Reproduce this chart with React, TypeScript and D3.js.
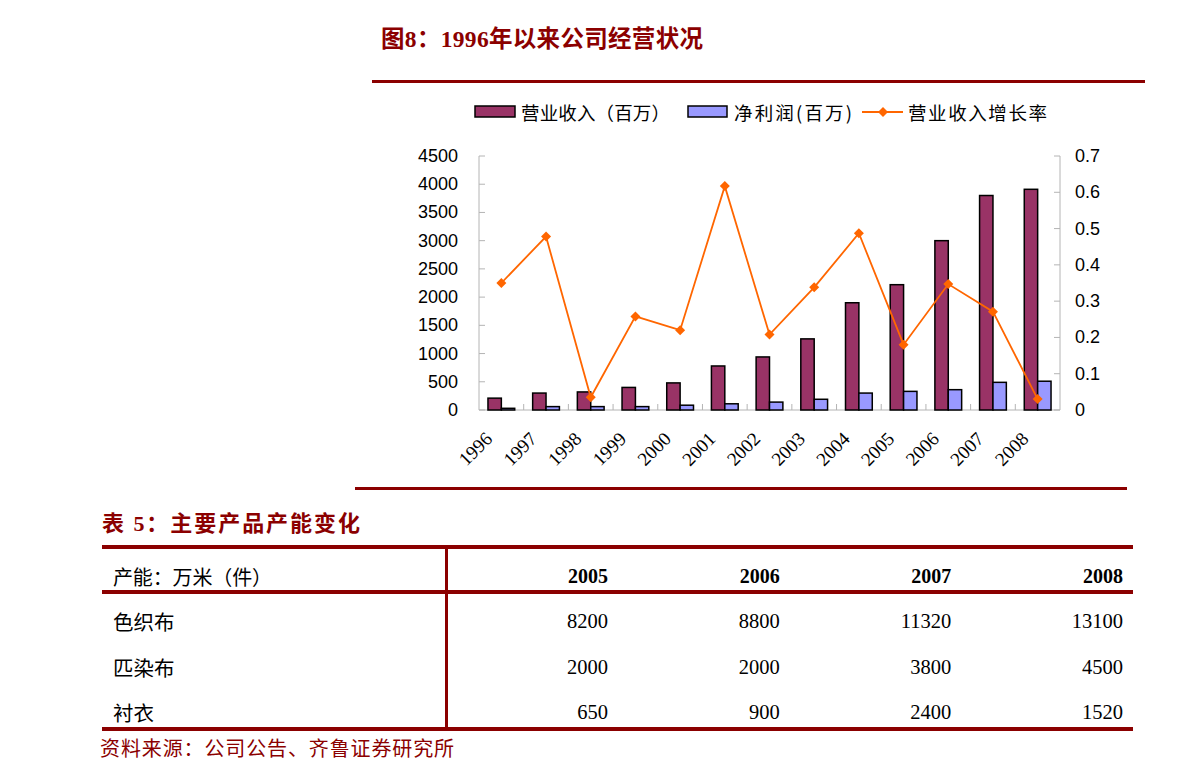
import React from 'react';
import * as d3 from 'd3';

const years = ['1996', '1997', '1998', '1999', '2000', '2001', '2002', '2003', '2004', '2005', '2006', '2007', '2008'];
const revenue = [210, 300, 320, 400, 480, 780, 940, 1260, 1900, 2220, 3000, 3800, 3910];
const netProfit = [30, 60, 60, 60, 85, 110, 140, 190, 300, 330, 360, 490, 510];
const growth = [0.35, 0.478, 0.035, 0.258, 0.22, 0.617, 0.208, 0.338, 0.487, 0.18, 0.347, 0.271, 0.03];
const leftTicks = [0, 500, 1000, 1500, 2000, 2500, 3000, 3500, 4000, 4500];
const rightTicks = [0, 0.1, 0.2, 0.3, 0.4, 0.5, 0.6, 0.7];

const tableYears = ['2005', '2006', '2007', '2008'];
const products = ['色织布', '匹染布', '衬衣'];
const capacity = [
  [8200, 8800, 11320, 13100],
  [2000, 2000, 3800, 4500],
  [650, 900, 2400, 1520],
];

const RED = '#8b0000';
const CJK = '"Noto Sans CJK SC", sans-serif';
const SERIF_CJK = '"Liberation Serif", "Noto Sans CJK SC", serif';

const App: React.FC = () => {
  const plot = { left: 479, right: 1060, top: 156, bottom: 410 };

  const x = d3.scaleBand<string>().domain(years).range([plot.left, plot.right]);
  const inner = d3.scaleBand<string>().domain(['rev', 'net']).range([0, x.bandwidth()]).paddingOuter(0.67);
  const yL = d3.scaleLinear().domain([0, 4500]).range([plot.bottom, plot.top]);
  const yR = d3.scaleLinear().domain([0, 0.7]).range([plot.bottom, plot.top]);

  const line = d3.line<number>()
    .x((_, i) => (x(years[i]) as number) + x.bandwidth() / 2)
    .y(d => yR(d));

  const diamond = d3.symbol().type(d3.symbolSquare).size(50)();

  // table columns
  const colRight = d3.scalePoint<string>().domain(tableYears).range([608, 1123]);
  const rowY = d3.scalePoint<string>().domain(products).range([621, 712]);

  return (
    <svg width={1191} height={777} style={{ position: 'absolute', left: 0, top: 0, background: '#fff' }}>
      {/* figure title */}
      <text x={381} y={47} fontFamily={SERIF_CJK} fontWeight="bold" fontSize={23.5} fill={RED}
        textLength={322} lengthAdjust="spacing">
        图8：1996年以来公司经营状况
      </text>
      <rect x={372} y={80} width={773} height={3} fill={RED} />

      {/* legend */}
      <g fontFamily={CJK} fontSize={18.5} fill="#000">
        <rect x={475} y={106} width={40} height={11} fill="#993366" stroke="#000" strokeWidth={1.5} />
        <text x={521} y={112} dominantBaseline="central" textLength={149} lengthAdjust="spacing">营业收入（百万）</text>
        <rect x={688} y={106} width={39} height={11} fill="#9999ff" stroke="#000" strokeWidth={1.5} />
        <text x={734} y={112} dominantBaseline="central" textLength={118} lengthAdjust="spacing">净利润(百万)</text>
        <line x1={862} x2={903} y1={112} y2={112} stroke="#ff6600" strokeWidth={2} />
        <path d={diamond} transform="translate(883,112) rotate(45)" fill="#ff6600" />
        <text x={908} y={112} dominantBaseline="central" textLength={139} lengthAdjust="spacing">营业收入增长率</text>
      </g>

      {/* axes */}
      <g stroke="#b4b4b4" strokeWidth={1}>
        <line x1={plot.left} x2={plot.left} y1={plot.top} y2={plot.bottom} />
        <line x1={plot.right} x2={plot.right} y1={plot.top} y2={plot.bottom} />
        <line x1={plot.left} x2={plot.right} y1={plot.bottom} y2={plot.bottom} />
        {leftTicks.map(t => (
          <line key={'lt' + t} x1={plot.left} x2={plot.left + 6} y1={yL(t)} y2={yL(t)} />
        ))}
        {rightTicks.map(t => (
          <line key={'rt' + t} x1={plot.right - 6} x2={plot.right} y1={yR(t)} y2={yR(t)} />
        ))}
        {years.slice(1).map(yr => (
          <line key={'xt' + yr} x1={x(yr)} x2={x(yr)} y1={plot.bottom - 6} y2={plot.bottom} />
        ))}
      </g>

      <g fontFamily='"Liberation Sans", Arial, sans-serif' fontSize={18} fill="#000">
        {leftTicks.map(t => (
          <text key={'ll' + t} x={458} y={yL(t)} textAnchor="end" dominantBaseline="central">{t}</text>
        ))}
        {rightTicks.map(t => (
          <text key={'rl' + t} x={1075} y={yR(t)} dominantBaseline="central">{t === 0 ? '0' : t.toFixed(1)}</text>
        ))}
      </g>

      <g fontFamily='"Liberation Serif", serif' fontSize={19} fill="#000">
        {years.map(yr => {
          const cx = (x(yr) as number) + x.bandwidth() / 2 - 8;
          const cy = 440;
          return (
            <text key={'xl' + yr} x={cx} y={cy} textAnchor="end" transform={`rotate(-45,${cx},${cy})`}>{yr}</text>
          );
        })}
      </g>

      {/* bars */}
      <g stroke="#000" strokeWidth={1.5}>
        {years.map((yr, i) => (
          <g key={'b' + yr} transform={`translate(${x(yr)},0)`}>
            <rect x={inner('rev')} y={yL(revenue[i])} width={inner.bandwidth()} height={yL(0) - yL(revenue[i])} fill="#993366" />
            <rect x={inner('net')} y={yL(netProfit[i])} width={inner.bandwidth()} height={yL(0) - yL(netProfit[i])} fill="#9999ff" />
          </g>
        ))}
      </g>

      {/* growth line */}
      <path d={line(growth) as string} fill="none" stroke="#ff6600" strokeWidth={1.8} />
      {growth.map((g, i) => (
        <path
          key={'m' + i}
          d={diamond}
          transform={`translate(${(x(years[i]) as number) + x.bandwidth() / 2},${yR(g)}) rotate(45)`}
          fill="#ff6600"
        />
      ))}

      {/* separator */}
      <rect x={355} y={487} width={772} height={3} fill={RED} />

      {/* table */}
      <text x={102} y={531} fontFamily={SERIF_CJK} fontWeight="bold" fontSize={22} fill={RED}
        textLength={258} lengthAdjust="spacing">
        表 5：主要产品产能变化
      </text>
      <rect x={102} y={545} width={1031} height={4} fill={RED} />
      <rect x={102} y={590} width={1031} height={4} fill={RED} />
      <rect x={102} y={727} width={1031} height={4} fill={RED} />
      <rect x={445} y={545} width={3} height={186} fill={RED} />

      <text x={113} y={576} fontFamily={CJK} fontSize={20} dominantBaseline="central"
        textLength={159} lengthAdjust="spacing">产能：万米（件）</text>
      {tableYears.map(yr => (
        <text key={'th' + yr} x={colRight(yr)} y={576} textAnchor="end" dominantBaseline="central"
          fontFamily='"Liberation Serif", serif' fontWeight="bold" fontSize={20}>{yr}</text>
      ))}
      {products.map((p, r) => (
        <g key={'row' + p}>
          <text x={113} y={rowY(p)} fontFamily={CJK} fontSize={20.5} dominantBaseline="central">{p}</text>
          {tableYears.map((yr, c) => (
            <text key={'td' + yr} x={colRight(yr)} y={rowY(p)} textAnchor="end" dominantBaseline="central"
              fontFamily='"Liberation Serif", serif' fontSize={20.5}>{capacity[r][c]}</text>
          ))}
        </g>
      ))}

      <text x={100} y={747} fontFamily={CJK} fontSize={20} fill={RED} dominantBaseline="central"
        textLength={354} lengthAdjust="spacing">
        资料来源：公司公告、齐鲁证券研究所
      </text>
    </svg>
  );
};

export default App;
